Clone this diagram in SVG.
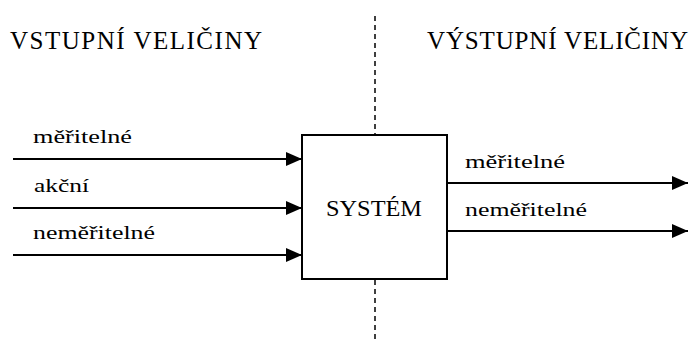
<svg xmlns="http://www.w3.org/2000/svg" width="692" height="345" viewBox="0 0 692 345">
<style>
.hdr{font-family:"Liberation Serif","Times New Roman",serif;font-size:25px;fill:#000}
.lbl{font-family:"Liberation Serif","Times New Roman",serif;font-size:18px;fill:#000}
.sys{font-family:"Liberation Serif","Times New Roman",serif;font-size:23px;fill:#000}
.ln{stroke:#000;stroke-width:2;fill:none}
</style>
<defs>
<marker id="ah" markerWidth="16" markerHeight="14" refX="16" refY="7" orient="auto" markerUnits="userSpaceOnUse">
<path d="M0,0 L16,7 L0,14 Z" fill="#000"/>
</marker>
</defs>
<rect width="692" height="345" fill="#fff"/>
<g id="headers">
<text class="hdr" x="10" y="49" textLength="252" lengthAdjust="spacing">VSTUPNÍ VELIČINY</text>
<text class="hdr" x="427" y="49" textLength="261" lengthAdjust="spacing">VÝSTUPNÍ VELIČINY</text>
</g>
<g id="divider">
<line x1="375" y1="16" x2="375" y2="135" stroke="#000" stroke-width="1.5" stroke-dasharray="5,4"/>
<line x1="375" y1="280" x2="375" y2="342" stroke="#000" stroke-width="1.5" stroke-dasharray="5,4"/>
</g>
<g id="connectors">
<line class="ln" x1="13" y1="159" x2="302" y2="159" marker-end="url(#ah)"/>
<line class="ln" x1="13" y1="208" x2="302" y2="208" marker-end="url(#ah)"/>
<line class="ln" x1="13" y1="255" x2="302" y2="255" marker-end="url(#ah)"/>
<line class="ln" x1="447" y1="183" x2="688" y2="183" marker-end="url(#ah)"/>
<line class="ln" x1="447" y1="231" x2="688" y2="231" marker-end="url(#ah)"/>
</g>
<g id="labels">
<text class="lbl" x="33" y="143" textLength="99" lengthAdjust="spacingAndGlyphs">měřitelné</text>
<text class="lbl" x="34" y="192" textLength="55" lengthAdjust="spacingAndGlyphs">akční</text>
<text class="lbl" x="33" y="239" textLength="122" lengthAdjust="spacingAndGlyphs">neměřitelné</text>
<text class="lbl" x="465" y="168" textLength="100" lengthAdjust="spacingAndGlyphs">měřitelné</text>
<text class="lbl" x="465" y="216" textLength="122" lengthAdjust="spacingAndGlyphs">neměřitelné</text>
</g>
<g id="system">
<rect x="302" y="135" width="145" height="144" fill="#fff" stroke="#000" stroke-width="2"/>
<text class="sys" x="326" y="216" textLength="96" lengthAdjust="spacingAndGlyphs">SYSTÉM</text>
</g>
</svg>
